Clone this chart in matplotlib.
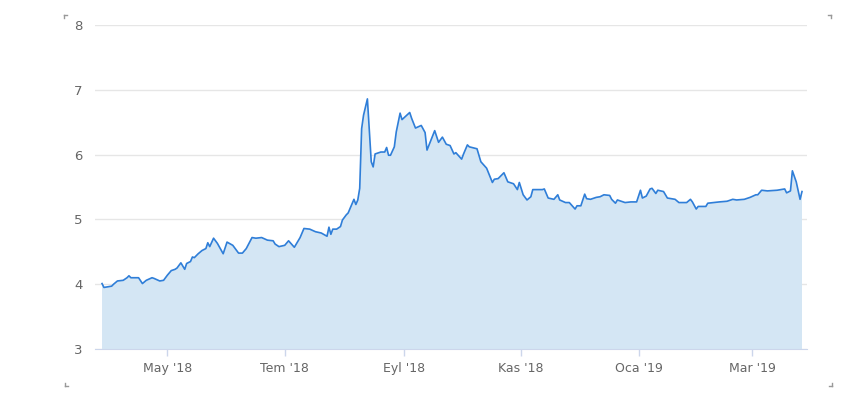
import matplotlib
matplotlib.use("Agg")
import matplotlib.pyplot as plt
from matplotlib.lines import Line2D
import pandas as pd

# okunan degerler (tarih, kur)
tarihler = [
    "2018-03-28", "2018-03-29", "2018-04-02", "2018-04-03", "2018-04-05", "2018-04-08",
    "2018-04-10", "2018-04-11", "2018-04-12", "2018-04-16", "2018-04-18", "2018-04-20",
    "2018-04-23", "2018-04-24", "2018-04-27", "2018-04-29", "2018-05-01", "2018-05-03",
    "2018-05-05", "2018-05-06", "2018-05-08", "2018-05-10", "2018-05-11", "2018-05-13",
    "2018-05-14", "2018-05-15", "2018-05-17", "2018-05-19", "2018-05-21", "2018-05-22",
    "2018-05-23", "2018-05-25", "2018-05-27", "2018-05-30", "2018-06-01", "2018-06-04",
    "2018-06-07", "2018-06-09", "2018-06-11", "2018-06-14", "2018-06-16", "2018-06-19",
    "2018-06-22", "2018-06-25", "2018-06-26", "2018-06-28", "2018-07-01", "2018-07-03",
    "2018-07-06", "2018-07-08", "2018-07-09", "2018-07-11", "2018-07-14", "2018-07-17",
    "2018-07-20", "2018-07-23", "2018-07-24", "2018-07-25", "2018-07-26", "2018-07-28",
    "2018-07-30", "2018-07-31", "2018-08-02", "2018-08-03", "2018-08-06", "2018-08-07",
    "2018-08-08", "2018-08-09", "2018-08-10", "2018-08-11", "2018-08-13", "2018-08-15",
    "2018-08-16", "2018-08-17", "2018-08-20", "2018-08-22", "2018-08-23", "2018-08-24",
    "2018-08-25", "2018-08-27", "2018-08-28", "2018-08-30", "2018-08-31", "2018-09-04",
    "2018-09-05", "2018-09-07", "2018-09-10", "2018-09-12", "2018-09-13", "2018-09-17",
    "2018-09-19", "2018-09-21", "2018-09-23", "2018-09-25", "2018-09-27", "2018-09-28",
    "2018-10-01", "2018-10-02", "2018-10-04", "2018-10-05", "2018-10-09", "2018-10-11",
    "2018-10-14", "2018-10-17", "2018-10-18", "2018-10-20", "2018-10-23", "2018-10-25",
    "2018-10-28", "2018-10-30", "2018-10-31", "2018-11-02", "2018-11-04", "2018-11-06",
    "2018-11-07", "2018-11-12", "2018-11-13", "2018-11-15", "2018-11-18", "2018-11-20",
    "2018-11-21", "2018-11-24", "2018-11-26", "2018-11-29", "2018-11-30", "2018-12-02",
    "2018-12-04", "2018-12-05", "2018-12-07", "2018-12-10", "2018-12-12", "2018-12-14",
    "2018-12-17", "2018-12-18", "2018-12-20", "2018-12-21", "2018-12-25", "2018-12-28",
    "2018-12-31", "2019-01-02", "2019-01-03", "2019-01-05", "2019-01-07", "2019-01-08",
    "2019-01-10", "2019-01-11", "2019-01-14", "2019-01-16", "2019-01-20", "2019-01-22",
    "2019-01-26", "2019-01-28", "2019-01-29", "2019-01-31", "2019-02-01", "2019-02-05",
    "2019-02-06", "2019-02-09", "2019-02-12", "2019-02-16", "2019-02-19", "2019-02-21",
    "2019-02-25", "2019-02-28", "2019-03-03", "2019-03-04", "2019-03-06", "2019-03-09",
    "2019-03-14", "2019-03-18", "2019-03-19", "2019-03-21", "2019-03-22", "2019-03-24",
    "2019-03-26", "2019-03-27",
]
kur = [
    4.01, 3.95, 3.97, 4.00, 4.05, 4.06,
    4.10, 4.13, 4.10, 4.10, 4.01, 4.06,
    4.10, 4.09, 4.05, 4.06, 4.14, 4.21,
    4.23, 4.25, 4.33, 4.23, 4.32, 4.35,
    4.42, 4.41, 4.47, 4.52, 4.55, 4.64,
    4.58, 4.71, 4.63, 4.47, 4.65, 4.60,
    4.48, 4.48, 4.55, 4.72, 4.71, 4.72,
    4.68, 4.67, 4.62, 4.58, 4.60, 4.67,
    4.57, 4.67, 4.72, 4.86, 4.85, 4.81,
    4.79, 4.74, 4.88, 4.77, 4.85, 4.85,
    4.89, 4.99, 5.07, 5.10, 5.31, 5.23,
    5.30, 5.48, 6.40, 6.61, 6.86, 5.89,
    5.81, 6.01, 6.04, 6.04, 6.11, 5.99,
    5.99, 6.12, 6.35, 6.64, 6.54, 6.65,
    6.56, 6.41, 6.45, 6.34, 6.07, 6.37,
    6.19, 6.27, 6.16, 6.14, 6.01, 6.03,
    5.93, 6.01, 6.15, 6.12, 6.09, 5.89,
    5.79, 5.57, 5.62, 5.63, 5.72, 5.58,
    5.55, 5.46, 5.57, 5.38, 5.30, 5.35,
    5.46, 5.46, 5.47, 5.33, 5.31, 5.38,
    5.30, 5.26, 5.26, 5.16, 5.21, 5.21,
    5.39, 5.32, 5.31, 5.34, 5.35, 5.38,
    5.37, 5.31, 5.25, 5.30, 5.26, 5.27,
    5.27, 5.45, 5.33, 5.36, 5.47, 5.48,
    5.40, 5.45, 5.43, 5.33, 5.31, 5.26,
    5.26, 5.31, 5.27, 5.16, 5.20, 5.20,
    5.25, 5.26, 5.27, 5.28, 5.31, 5.30,
    5.31, 5.34, 5.38, 5.38, 5.45, 5.44,
    5.45, 5.47, 5.41, 5.44, 5.75, 5.58,
    5.31, 5.43,
]
y_ticks = [3, 4, 5, 6, 7, 8]
x_ticks = ["2018-05-01", "2018-07-01", "2018-09-01", "2018-11-01", "2019-01-01", "2019-03-01"]
x_labels = ["May '18", "Tem '18", "Eyl '18", "Kas '18", "Oca '19", "Mar '19"]

t = pd.to_datetime(tarihler)

fig = plt.figure(figsize=(8.58, 3.97), dpi=100)
ax = fig.add_axes([0.1107, 0.1209, 0.8300, 0.8161])

ax.fill_between(t, kur, 0, color='#d4e6f4', lw=0)
ax.plot(t, kur, color='#2f7ed8', lw=1.2)

ax.set_ylim(3, 8)
ax.set_xlim(pd.Timestamp("2018-03-24 08:00"), pd.Timestamp("2019-03-29 16:00"))
ax.set_yticks(y_ticks)
ax.set_xticks(pd.to_datetime(x_ticks))
ax.set_xticklabels(x_labels)

ax.grid(axis='y', color='#e6e6e6', lw=1)
ax.set_axisbelow(True)
for s in ['top', 'right', 'left']:
    ax.spines[s].set_visible(False)
ax.spines['bottom'].set_color('#ccd6eb')
ax.tick_params(axis='x', colors='#ccd6eb', length=5, width=1, labelcolor='#666666',
               labelsize=9, pad=4)
ax.tick_params(axis='y', length=0, labelcolor='#666666', labelsize=9.5, pad=9)

# kose isaretleri
def kose(x, y, dx, dy):
    fig.add_artist(Line2D([x, x + dx], [y, y], transform=fig.transFigure, color='#999999', lw=1))
    fig.add_artist(Line2D([x, x], [y, y + dy], transform=fig.transFigure, color='#999999', lw=1))

kose(64 / 858, 1 - 15 / 397, 3 / 858, -3 / 397)
kose(831 / 858, 1 - 15 / 397, -3 / 858, -3 / 397)
kose(65 / 858, 1 - 386 / 397, 3 / 858, 3 / 397)
kose(832 / 858, 1 - 386 / 397, -3 / 858, 3 / 397)

plt.savefig('out.png', dpi=100)
